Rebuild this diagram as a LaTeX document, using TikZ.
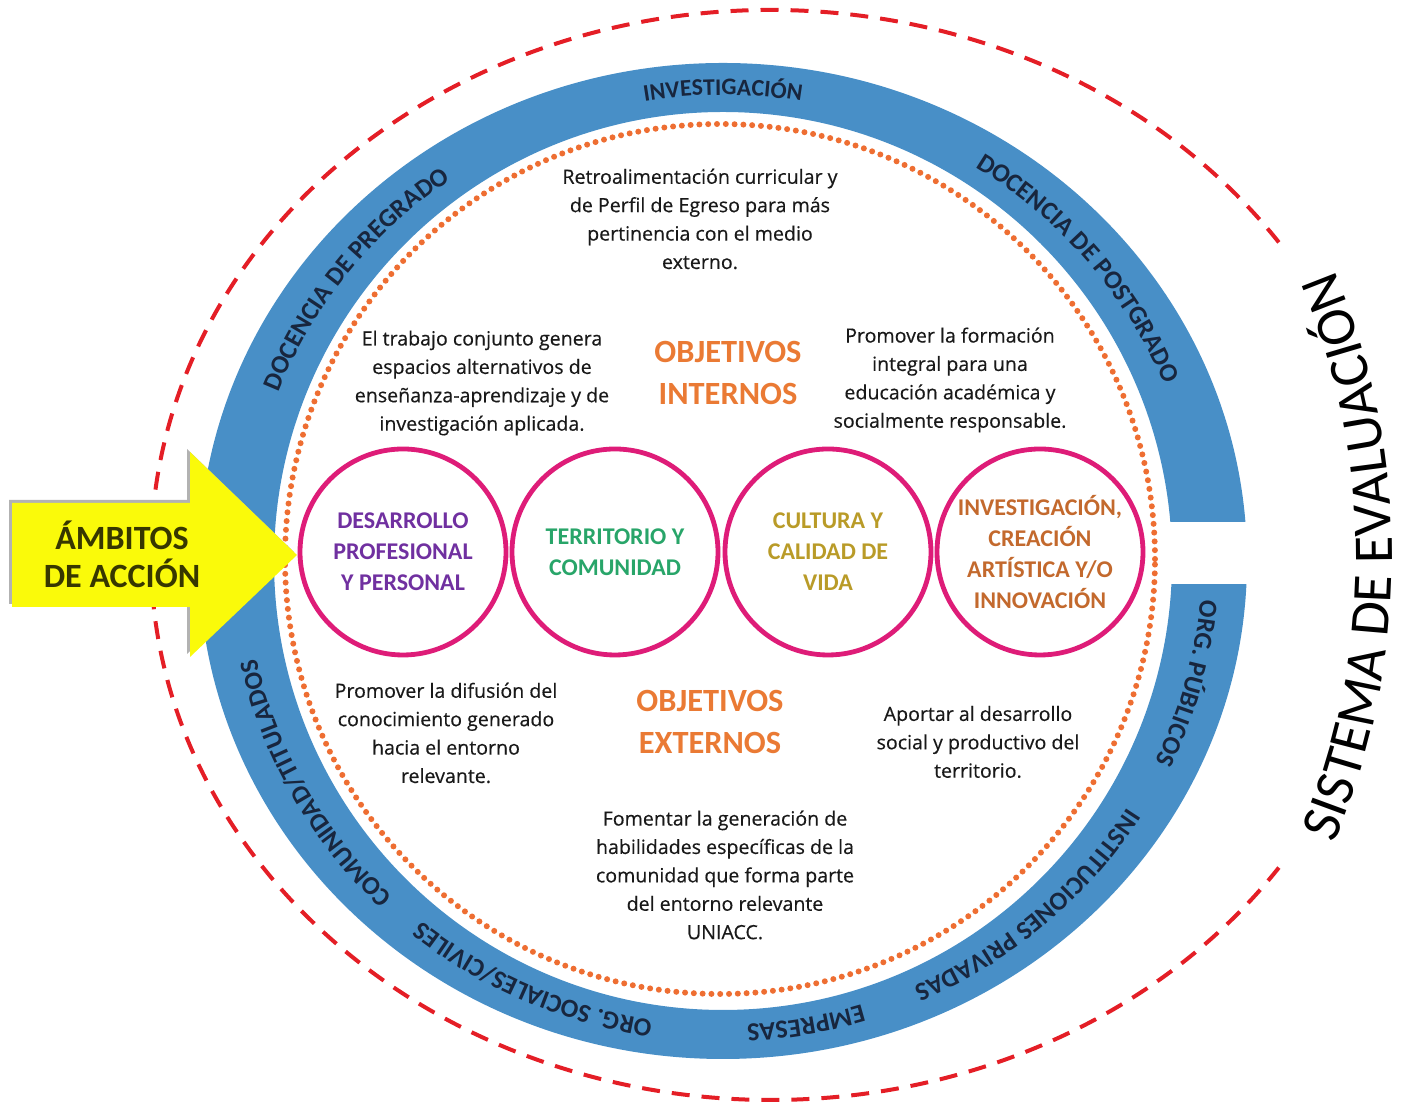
\documentclass[tikz,border=0pt]{standalone}
\usepackage{fontspec}
\setmainfont{Carlito}
\newfontfamily\parafont{Open Sans}[FakeBold=0.4]
\usetikzlibrary{decorations.text}

\definecolor{anillo}{RGB}{72,143,199}
\definecolor{rojo}{RGB}{228,30,38}
\definecolor{naranjo}{RGB}{234,122,52}
\definecolor{punteado}{RGB}{238,110,50}
\definecolor{fucsia}{RGB}{222,28,120}
\definecolor{morado}{RGB}{112,48,160}
\definecolor{verde}{RGB}{40,165,105}
\definecolor{ocre}{RGB}{185,155,40}
\definecolor{cafe}{RGB}{195,105,45}
\definecolor{marino}{RGB}{24,38,62}
\definecolor{amarillo}{RGB}{250,250,10}
\definecolor{oliva}{RGB}{55,55,0}

\newcommand{\ringfont}{\fontsize{13}{13}\selectfont\bfseries\color{marino}}

\tikzset{
  parrafo/.style={font=\parafont\fontsize{9.8}{14.2}\selectfont, text=black!90, align=center},
  objetivo/.style={font=\fontsize{16.2}{21}\selectfont\bfseries, text=naranjo, align=center},
  ambito/.style={circle, draw=fucsia, line width=2.4pt, minimum size=103pt, inner sep=0pt,
    align=center, font=\fontsize{12}{15.5}\selectfont\bfseries},
  rotulo/.style={decorate, decoration={text along path, text align=center, text={|\ringfont|#1}}},
}

\begin{document}
\begin{tikzpicture}[x=0.5pt, y=0.5pt]

\useasboundingbox (0,0) rectangle (1405,1107);

% Outer dashed line
\draw[rojo, line width=2pt, dash pattern=on 9pt off 6pt]
  ([shift={(771,552)}]35:620 and 545) arc[start angle=35, end angle=325, x radius=620, y radius=545];

% Sistema de evaluacion along the right side
\path[decorate, decoration={text along path, text align=center,
  text={|\fontsize{28}{28}\selectfont|SISTEMA DE EVALUACIÓN}}]
  ([shift={(651,550)}]-25:741) arc[start angle=-25, end angle=25, radius=741];

% Blue ring with its gap on the right
\fill[anillo, even odd rule] (723,546) ellipse[x radius=524, y radius=498] (723,546) circle[radius=449];
\fill[white] (1162,523) rectangle (1300,585);

% Labels in the ring
\path[decorate, decoration={text along path, text align=center,
  text={|\fontsize{11.9}{12}\selectfont\bfseries\color{marino}|INVESTIGACIÓN}}]
  ([shift={(723,546)}]130:477 and 466) arc[start angle=130, end angle=50, x radius=477, y radius=466];
\path[rotulo={DOCENCIA DE PREGRADO}] ([shift={(723,546)}]182:477 and 464) arc[start angle=182, end angle=102, x radius=477, y radius=464];
\path[rotulo={DOCENCIA DE POSTGRADO}] ([shift={(723,546)}]80:477 and 464) arc[start angle=80, end angle=0, x radius=477, y radius=464];
\path[rotulo={ORG. PÚBLICOS}] ([shift={(723,546)}]25:479 and 464) arc[start angle=25, end angle=-55, x radius=479, y radius=464];
\path[rotulo={INSTITUCIONES PRIVADAS}] ([shift={(723,546)}]-9:477 and 464) arc[start angle=-9, end angle=-89, x radius=477, y radius=464];
\path[rotulo={EMPRESAS}] ([shift={(723,546)}]-40:477 and 464) arc[start angle=-40, end angle=-120, x radius=477, y radius=464];
\path[rotulo={ORG. SOCIALES/CIVILES}] ([shift={(723,546)}]-74:477 and 464) arc[start angle=-74, end angle=-154, x radius=477, y radius=464];
\path[rotulo={COMUNIDAD/TITULADOS}] ([shift={(723,546)}]-111:477 and 464) arc[start angle=-111, end angle=-191, x radius=477, y radius=464];

% Inner dotted circle
\draw[punteado, line width=3pt, line cap=round, dash pattern=on 0pt off 4.4pt] (720,548) circle[radius=435];

% The four circles
\foreach \n/\x/\col/\txt in {1/403/morado/{DESARROLLO\\PROFESIONAL\\Y PERSONAL},
                              2/615/verde/{TERRITORIO Y\\COMUNIDAD},
                              3/828/ocre/{CULTURA Y\\CALIDAD DE\\VIDA},
                              4/1040/cafe/{INVESTIGACIÓN,\\CREACIÓN\\ARTÍSTICA Y/O\\INNOVACIÓN}}
  \node[ambito, text=\col] (amb\n) at (\x,555) {\txt};

% Objetivos internos
\node[objetivo] (internos) at (728,734) {OBJETIVOS\\INTERNOS};
\node[parrafo] (retro) at (700,888) {Retroalimentación curricular y\\de Perfil de Egreso para más\\pertinencia con el medio\\externo.};
\node[parrafo] (trabajo) at (482,724) {El trabajo conjunto genera\\espacios alternativos de\\enseñanza-aprendizaje y de\\investigación aplicada.};
\node[parrafo] (formacion) at (950,727) {Promover la formación\\integral para una\\educación académica y\\socialmente responsable.};

% Objetivos externos
\node[objetivo] (externos) at (710,385) {OBJETIVOS\\EXTERNOS};
\node[parrafo] (difusion) at (446,374) {Promover la difusión del\\conocimiento generado\\hacia el entorno\\relevante.};
\node[parrafo] (aporte) at (978,365) {Aportar al desarrollo\\social y productivo del\\territorio.};
\node[parrafo] (fomento) at (725,232) {Fomentar la generación de\\habilidades específicas de la\\comunidad que forma parte\\del entorno relevante\\UNIACC.};

% Yellow arrow with its shadow
\fill[gray!60] (9,607) -- (187,607) -- (187,658) -- (294,555) -- (187,453) -- (187,503) -- (9,503) -- cycle;
\fill[amarillo] (12,604) -- (190,604) -- (190,655) -- (297,552) -- (190,450) -- (190,500) -- (12,500) -- cycle;
\node[font=\fontsize{17}{19}\selectfont\bfseries, text=oliva, align=center] (ambitos) at (122,553) {ÁMBITOS\\DE ACCIÓN};

\end{tikzpicture}
\end{document}
